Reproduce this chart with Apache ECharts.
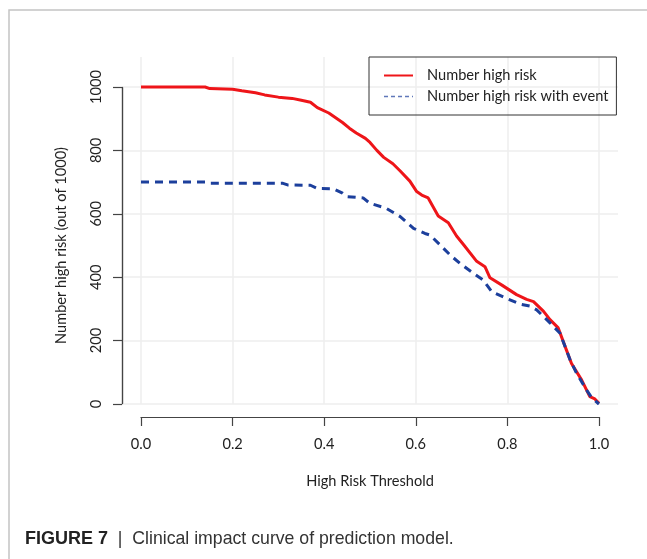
<!DOCTYPE html>
<html>
<head>
<meta charset="utf-8">
<script src="https://cdn.jsdelivr.net/npm/echarts@6/dist/echarts.min.js"></script>
<style>
  html, body { margin: 0; padding: 0; background: #fff; }
  #main { width: 647px; height: 559px; }
</style>
</head>
<body>
<div id="main"></div>
<script>
// thresholds and counts
var redThresh = [0, 0.14, 0.15, 0.2, 0.22, 0.25, 0.27, 0.3, 0.33, 0.35, 0.37, 0.385, 0.41, 0.44, 0.455, 0.47, 0.49, 0.5, 0.515, 0.53, 0.55, 0.566, 0.587, 0.602, 0.613, 0.627, 0.649, 0.671, 0.689, 0.704, 0.733, 0.751, 0.762, 0.788, 0.82, 0.842, 0.857, 0.879, 0.893, 0.911, 0.929, 0.94, 0.962, 0.98, 0.991, 1.0];
var redCount = [1000, 1000, 995, 993, 988, 982, 975, 968, 964, 958, 952, 935, 918, 888, 870, 855, 838, 825, 800, 778, 758, 735, 703, 670, 659, 650, 593, 572, 530, 503, 450, 433, 398, 375, 345, 330, 323, 292, 266, 240, 170, 128, 76, 23, 16, 2];

var blueThresh = [0, 0.14, 0.15, 0.31, 0.32, 0.37, 0.385, 0.42, 0.44, 0.45, 0.485, 0.5, 0.536, 0.566, 0.595, 0.62, 0.631, 0.653, 0.675, 0.696, 0.726, 0.747, 0.766, 0.798, 0.828, 0.849, 0.864, 0.893, 0.915, 0.937, 0.951, 0.973, 0.984, 1.0];
var blueCount = [700, 700, 696, 696, 691, 690, 680, 679, 665, 654, 650, 633, 617, 591, 554, 538, 533, 502, 470, 444, 412, 391, 354, 333, 315, 309, 297, 256, 223, 139, 97, 44, 20, 0];

var xTicks = [0, 0.2, 0.4, 0.6, 0.8, 1.0];
var yTicks = [0, 200, 400, 600, 800, 1000];

var seriesNames = ['Number high risk', 'Number high risk with event'];

function zip(a, b) {
  var out = [];
  for (var i = 0; i < a.length; i++) out.push([a[i], b[i]]);
  return out;
}

var font = 'Lato';
var fs = 14.6;
var axisColor = '#444';
var myChart = echarts.init(document.getElementById('main'));

var gridLines = [];
xTicks.forEach(function (t) { gridLines.push({ xAxis: t }); });
yTicks.forEach(function (t) { gridLines.push({ yAxis: t }); });

var option = {
  animation: false,
  backgroundColor: '#fff',
  grid: [
    // plot region (grid lines + curves)
    { left: 122, right: 29, top: 57, bottom: 155 },
    // x axis frame (R style: line only between first and last tick)
    { left: 141, right: 48, top: 87, bottom: 142 },
    // y axis frame
    { left: 122, right: 48, top: 87, bottom: 155 }
  ],
  xAxis: [
    { gridIndex: 0, type: 'value', min: -0.0415, max: 1.0415, show: false },
    {
      gridIndex: 1, type: 'value', min: 0, max: 1, interval: 0.2,
      position: 'bottom',
      axisLine: { show: true, onZero: false, lineStyle: { color: axisColor, width: 1.2 } },
      axisTick: { show: true, length: 9, lineStyle: { color: axisColor, width: 1.2 } },
      splitLine: { show: false },
      axisLabel: {
        margin: 20, color: '#222', fontFamily: font, fontSize: fs,
        formatter: function (v) { return v.toFixed(1); }
      },
      name: 'High Risk Threshold',
      nameLocation: 'middle',
      nameGap: 57,
      nameTextStyle: { color: '#222', fontFamily: font, fontSize: fs }
    },
    { gridIndex: 2, type: 'value', min: 0, max: 1, show: false }
  ],
  yAxis: [
    { gridIndex: 0, type: 'value', min: 0, max: 1094.6, show: false },
    { gridIndex: 1, type: 'value', min: 0, max: 1000, show: false },
    {
      gridIndex: 2, type: 'value', min: 0, max: 1000, interval: 200,
      position: 'left',
      axisLine: { show: true, onZero: false, lineStyle: { color: axisColor, width: 1.2 } },
      axisTick: { show: true, length: 9, lineStyle: { color: axisColor, width: 1.2 } },
      splitLine: { show: false },
      axisLabel: {
        rotate: 90, margin: 18, color: '#222', fontFamily: font, fontSize: fs,
        formatter: function (v) { return String(v); }
      },
      name: 'Number high risk (out of 1000)',
      nameLocation: 'middle',
      nameGap: 53,
      nameTextStyle: { color: '#222', fontFamily: font, fontSize: fs }
    }
  ],
  legend: {
    orient: 'vertical',
    left: 369,
    top: 57,
    borderColor: '#333',
    borderWidth: 1,
    borderRadius: 0,
    padding: [11, 8, 11, 14],
    itemWidth: 29,
    itemHeight: 14,
    itemGap: 6,
    itemStyle: { opacity: 0 },
    textStyle: { color: '#222', fontFamily: font, fontSize: fs, lineHeight: 14, padding: [0, 0, 0, 9] },
    data: [
      { name: seriesNames[0], itemStyle: { opacity: 0 }, lineStyle: { width: 2 } },
      { name: seriesNames[1], itemStyle: { opacity: 0 }, lineStyle: { width: 1.5, type: [4, 3], opacity: 0.7 } }
    ]
  },
  graphic: [
    {
      type: 'polyline',
      shape: { points: [[9, 559], [9, 10], [647, 10]] },
      style: { stroke: '#c4c4c4', lineWidth: 1.5, fill: null },
      silent: true
    },
    {
      type: 'text',
      left: 25,
      top: 530,
      style: {
        text: '{b|FIGURE 7}  |  Clinical impact curve of prediction model.',
        fill: '#333',
        font: '17.7px "Liberation Sans"',
        rich: {
          b: { fontWeight: 'bold', fontSize: 18, fontFamily: 'Liberation Sans', fill: '#222' }
        }
      }
    }
  ],
  series: [
    {
      name: 'grid',
      type: 'line',
      xAxisIndex: 0, yAxisIndex: 0,
      data: [],
      z: 1,
      silent: true,
      markLine: {
        silent: true,
        z: 1,
        symbol: 'none',
        label: { show: false },
        lineStyle: { color: '#eeeeee', width: 1.5, type: 'solid' },
        data: gridLines
      }
    },
    {
      // y axis line, first to last tick
      name: 'yaxisline',
      type: 'line',
      xAxisIndex: 2, yAxisIndex: 2,
      data: [],
      silent: true,
      markLine: {
        silent: true,
        z: 6,
        symbol: 'none',
        label: { show: false },
        lineStyle: { color: axisColor, width: 1.2, type: 'solid' },
        data: [[{ coord: [0, yTicks[0]] }, { coord: [0, yTicks[yTicks.length - 1]] }]]
      }
    },
    {
      name: seriesNames[0],
      type: 'line',
      xAxisIndex: 0, yAxisIndex: 0,
      data: zip(redThresh, redCount),
      symbol: 'none',
      z: 3,
      lineStyle: { color: '#ee1519', width: 3 },
      itemStyle: { color: '#ee1519' }
    },
    {
      name: seriesNames[1],
      type: 'line',
      xAxisIndex: 0, yAxisIndex: 0,
      data: zip(blueThresh, blueCount),
      symbol: 'none',
      z: 4,
      lineStyle: { color: '#1c3f9c', width: 3, type: [8, 6] },
      itemStyle: { color: '#1c3f9c' }
    }
  ]
};
myChart.setOption(option);
window.onresize = myChart.resize;
</script>
</body>
</html>
